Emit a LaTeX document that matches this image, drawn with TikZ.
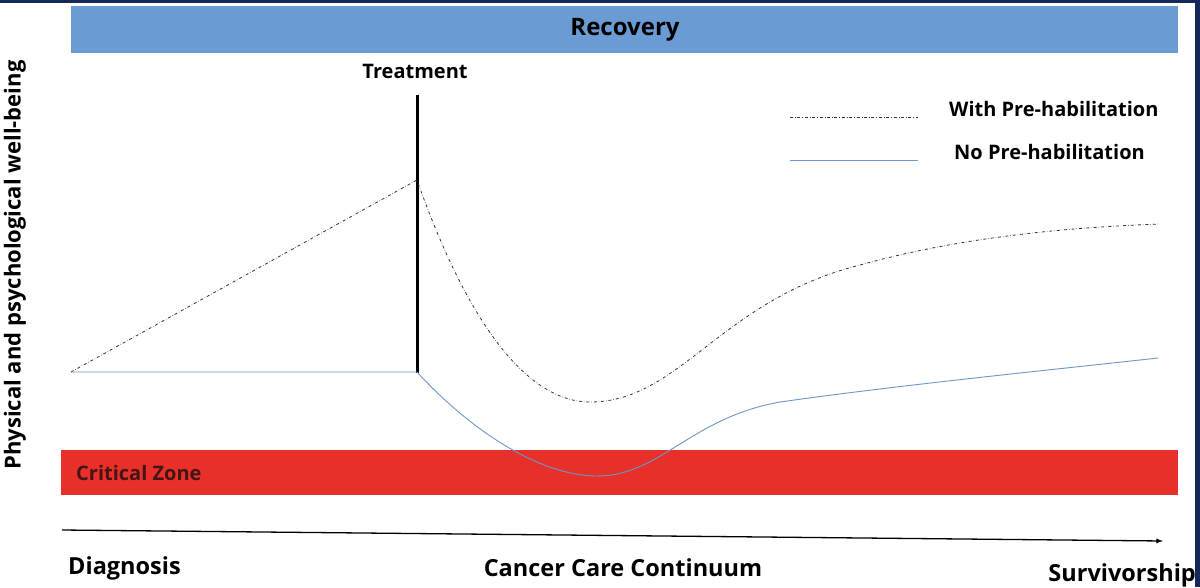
\documentclass[tikz,border=0pt]{standalone}
\usepackage{fontspec}
\setmainfont{Open Sans}
\definecolor{navy}{RGB}{20,40,90}
\definecolor{recblue}{RGB}{106,155,211}
\definecolor{critred}{RGB}{232,48,42}
\definecolor{darkred}{RGB}{70,20,20}
\definecolor{lineblue}{RGB}{110,150,200}
\begin{document}
\begin{tikzpicture}[x=1pt,y=-1pt,
  lbl/.style={font=\bfseries\fontsize{20}{22}\selectfont, inner sep=0pt},
  big/.style={font=\bfseries\fontsize{23.5}{25}\selectfont},
  dd/.style={dash dot, line width=0.8pt, black!80},
  bl/.style={line width=0.9pt, lineblue}]
\useasboundingbox (0,0) rectangle (1200,587);
\fill[white] (0,0) rectangle (1200,587);
\fill[navy] (0,0) rectangle (1200,3);
\fill[navy] (1195,0) rectangle (1200,587);
% recovery
\fill[recblue] (71,6) rectangle (1178,53);
\node[lbl, font=\bfseries\fontsize{24}{26}\selectfont] (rec) at (625,30) {Recovery};
% critical zone
\fill[critred] (61,450) rectangle (1178,495);
\node[lbl, anchor=west, text=darkred] (cz) at (76,473) {Critical Zone};
% treatment
\node[lbl] (tr) at (415,71) {Treatment};
\coordinate (t1) at (417,95); \coordinate (t2) at (417,373);
\draw[line width=3pt] (t1) -- (t2);
% legend
\coordinate (l1a) at (790,117); \coordinate (l1b) at (918,117);
\coordinate (l2a) at (790,160); \coordinate (l2b) at (918,160);
\draw[dd] (l1a) -- (l1b);
\draw[bl] (l2a) -- (l2b);
\node[lbl, anchor=west] (lw) at (949,109) {With Pre-habilitation};
\node[lbl, anchor=west] (ln) at (954,152) {No Pre-habilitation};
% curves
\coordinate (s) at (71,372);
\draw[dd] (s) -- (417,180) .. controls (470,330) and (530,402) .. (590,402)
  .. controls (680,402) and (720,300) .. (860,265)
  .. controls (950,240) and (1050,228) .. (1160,224);
\draw[bl] (s) -- (417,372) .. controls (470,430) and (540,476) .. (597,476)
  .. controls (660,476) and (690,418) .. (780,402)
  .. controls (900,385) and (1050,370) .. (1158,358);
% axis
\coordinate (a1) at (62,530); \coordinate (a2) at (1163,541);
\draw[line width=1.3pt, -latex] (a1) -- (a2);
\node[lbl, big, anchor=west] (dg) at (68,568) {Diagnosis};
\node[lbl, big] (ccc) at (623,568) {Cancer Care Continuum};
\node[lbl, big, anchor=east] (sv) at (1196,575) {Survivorship};
\node[lbl, rotate=90, font=\bfseries\fontsize{22}{24}\selectfont] (yl) at (15,265) {Physical and psychological well-being};
\end{tikzpicture}
\end{document}
